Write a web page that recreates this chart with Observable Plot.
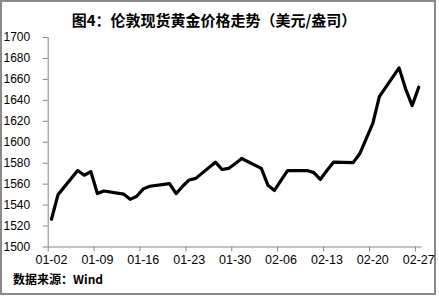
<!DOCTYPE html>
<html>
<head>
<meta charset="utf-8">
<script src="https://cdn.jsdelivr.net/npm/d3@7"></script>
<script src="https://cdn.jsdelivr.net/npm/@observablehq/plot@0.6"></script>
<style>
  html, body { margin: 0; padding: 0; background: #fff; }
  #frame { position: absolute; left: 0; top: 0; width: 432px; height: 291px; border: 2px solid #8a8a8a; background: #fff; }
  #title { position: absolute; left: 0; top: 10px; width: 428px; text-align: center;
           font-family: "Noto Sans CJK SC", sans-serif; font-weight: bold; font-size: 15px; line-height: 20px; color: #000; }
  #chart { position: absolute; left: 0; top: 30px; }
  #caption { position: absolute; left: 13px; top: 271px; font-family: "Noto Sans CJK SC", sans-serif;
             font-weight: bold; font-size: 12px; line-height: 16px; color: #000; }
</style>
</head>
<body>
<div id="frame"></div>
<div id="title">图4：伦敦现货黄金价格走势（美元/盎司）</div>
<div id="chart"></div>
<div id="caption">数据来源：Wind</div>
<script>
const dates = ["2020-01-02","2020-01-03","2020-01-06","2020-01-07","2020-01-08","2020-01-09","2020-01-10",
  "2020-01-13","2020-01-14","2020-01-15","2020-01-16","2020-01-17","2020-01-20","2020-01-21","2020-01-22",
  "2020-01-23","2020-01-24","2020-01-27","2020-01-28","2020-01-29","2020-01-30","2020-01-31",
  "2020-02-03","2020-02-04","2020-02-05","2020-02-06","2020-02-07","2020-02-10","2020-02-11","2020-02-12",
  "2020-02-13","2020-02-14","2020-02-17","2020-02-18","2020-02-19","2020-02-20","2020-02-21",
  "2020-02-24","2020-02-25","2020-02-26","2020-02-27"];
const prices = [1526.5,1550,1573,1568.5,1572,1551,1553.5,
  1550.5,1545.5,1548.5,1555.5,1558,1560.5,1551,1558,
  1564,1565.5,1581,1574,1575,1579.5,1584.5,
  1575,1559,1554,1563.5,1573,1573,1571,1564.5,
  1573,1581,1580.5,1589,1603.5,1618,1643.5,
  1671,1651,1635,1652.5];
const xTickLabels = ["01-02","01-09","01-16","01-23","01-30","02-06","02-13","02-20","02-27"];
const yTicks = [1500,1520,1540,1560,1580,1600,1620,1640,1660,1680,1700];

const HALF_DAY = 12 * 3600 * 1000;
const data = dates.map((d, i) => ({date: new Date(d + "T00:00:00Z"), price: prices[i]}));
const labelDates = xTickLabels.map(s => new Date("2020-" + s + "T00:00:00Z"));
const tickDates = labelDates.map(d => new Date(+d - HALF_DAY));
const xDomain = [new Date(+data[0].date - HALF_DAY), new Date(+data[data.length - 1].date + HALF_DAY)];
const fmt = d3.utcFormat("%m-%d");
const axisColor = "#868686";

const chart = Plot.plot({
  width: 439,
  height: 246,
  marginTop: 7,
  marginBottom: 29.5,
  marginLeft: 47.7,
  marginRight: 17.5,
  style: {fontFamily: "'Liberation Sans', Arial, sans-serif", fontSize: "12px", color: "#000", background: "transparent"},
  x: {type: "utc", domain: xDomain},
  y: {domain: [1500, 1700]},
  marks: [
    Plot.axisY({ticks: yTicks, tickSize: 5, tickPadding: 13, stroke: axisColor, fill: "#000", label: null, tickFormat: d3.format("d")}),
    Plot.axisX({ticks: tickDates, tickSize: 5, stroke: axisColor, tickFormat: () => "", label: null}),
    Plot.axisX({ticks: labelDates, tickSize: 0, tickPadding: 8, fill: "#000", tickFormat: fmt, label: null, fontSize: 12.5}),
    Plot.ruleX([xDomain[0]], {stroke: axisColor, strokeWidth: 1}),
    Plot.ruleY([1500], {stroke: axisColor, strokeWidth: 1}),
    Plot.line(data, {x: "date", y: "price", stroke: "#000", strokeWidth: 3.2, strokeLinejoin: "round", strokeLinecap: "round"})
  ]
});
document.getElementById("chart").appendChild(chart);
</script>
</body>
</html>
